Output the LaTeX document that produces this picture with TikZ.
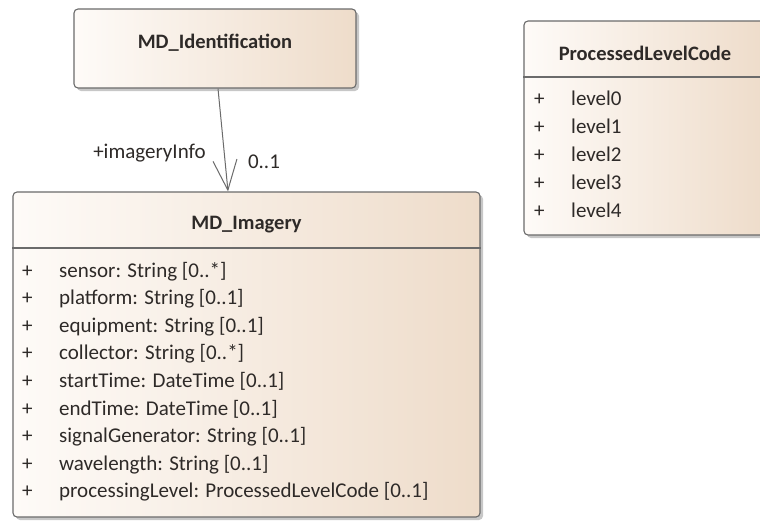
\documentclass[tikz,border=0pt]{standalone}
\usepackage{fontspec}
\setmainfont{Carlito}
\usetikzlibrary{arrows.meta,shadows,positioning}
\definecolor{boxleft}{HTML}{FEFBF8}
\definecolor{boxright}{HTML}{EEDCCA}
\definecolor{boxline}{HTML}{6B6B6B}
\definecolor{umltext}{HTML}{2E2A28}
\tikzset{
  classbox/.style={rectangle, draw=boxline, line width=1.1pt, rounded corners=4pt,
    left color=boxleft, right color=boxright, inner sep=0pt,
    drop shadow={shadow xshift=3pt, shadow yshift=-3pt, fill=black, opacity=0.22}},
  classname/.style={font=\bfseries\fontsize{20.5}{24}\selectfont, text=umltext, inner sep=0pt},
  member/.style={font=\fontsize{21}{24}\selectfont, text=umltext, inner sep=0pt,
    anchor=west, text height=14pt, text depth=4pt},
  rolename/.style={font=\fontsize{21}{24}\selectfont, text=umltext, inner sep=0pt},
  assoc/.style={draw=boxline, line width=1pt, -{Straight Barb[length=30pt,width=24pt]}}
}
\begin{document}
\begin{tikzpicture}[x=1pt,y=-1pt]
  \clip (0,0) rectangle (760,520);
  \fill[white] (0,0) rectangle (760,520);

  % MD_Identification
  \node (ident) [classbox, minimum width=282pt, minimum height=79pt] at (215,48.5) {};
  \node (identname) [classname] at (215,43) {MD\_Identification};

  % MD_Imagery
  \node (imagery) [classbox, minimum width=467pt, minimum height=325pt] at (246.5,354.5) {};
  \node (imageryname) [classname] at (246.5,225) {MD\_Imagery};
  \coordinate (imgsep) at (0,248);
  \draw[boxline, line width=1.1pt] (imagery.west |- imgsep) -- (imagery.east |- imgsep);
  \foreach \attr [count=\i] in {{sensor: String [0..*]}, {platform: String [0..1]},
      {equipment: String [0..1]}, {collector: String [0..*]},
      {startTime: DateTime [0..1]}, {endTime: DateTime [0..1]},
      {signalGenerator: String [0..1]}, {wavelength: String [0..1]},
      {processingLevel: ProcessedLevelCode [0..1]}} {
    \node (imgplus\i) [member] at (22, {272+27.6*(\i-1)}) {+};
    \node (imgattr\i) [member] at (59, {272+27.6*(\i-1)}) {\attr};
  }

  % ProcessedLevelCode
  \node (code) [classbox, minimum width=242pt, minimum height=214pt] at (645,128) {};
  \node (codename) [classname] at (645,53) {ProcessedLevelCode};
  \coordinate (codesep) at (0,77);
  \draw[boxline, line width=1.1pt] (code.west |- codesep) -- (code.east |- codesep);
  \foreach \i in {0,...,4} {
    \node (codeplus\i) [member] at (534, {100+28*\i}) {+};
    \node (codelit\i) [member] at (571, {100+28*\i}) {level\i};
  }

  % association
  \coordinate (assocfrom) at ([xshift=3pt]ident.south);
  \coordinate (assocto) at ([xshift=-18.5pt]imagery.north);
  \draw[assoc] (assocfrom) -- (assocto);
  \node (roleimg) [rolename] at (149.5,153) {+imageryInfo};
  \node (multimg) [rolename] at (264,162) {0..1};
\end{tikzpicture}
\end{document}
